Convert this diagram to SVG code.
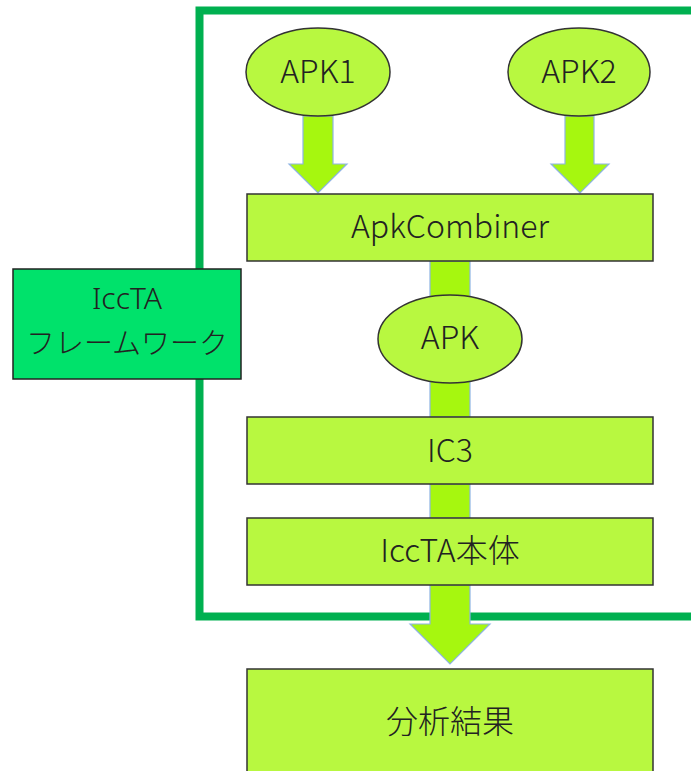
<svg xmlns="http://www.w3.org/2000/svg" width="691" height="771" viewBox="0 0 691 771">
<style>
.box{fill:#B8F840;stroke:#333;stroke-width:1.5}
.ell{fill:#B8F840;stroke:#333;stroke-width:1.5}
.arr{fill:#A6F70F;stroke:#8EB4E3;stroke-width:1.2}
.t{font-family:"Noto Sans CJK JP","Noto Sans",sans-serif;font-size:32px;font-weight:300;fill:#222;text-anchor:middle}
.f{font-size:29px}
.l{font-family:"Noto Sans",sans-serif;font-size:30px}
</style>
<rect width="691" height="771" fill="#fff"/>
<g id="frame"><rect x="199.5" y="10.5" width="520" height="606" fill="none" stroke="#00B050" stroke-width="8"/></g>
<g id="connectors">
<path class="arr" d="M303,116 V164 H289 L318,193 L347,164 H333 V116 Z"/>
<path class="arr" d="M565,116 V164 H551 L580,193 L609,164 H594 V116 Z"/>
<rect class="arr" x="430" y="261" width="40" height="156"/>
<rect class="arr" x="430" y="484" width="40" height="34"/>
<path class="arr" d="M430,585 V624 H410 L450,664 L490,624 H470 V585 Z"/>
</g>
<g id="framework"><rect x="13" y="269" width="228" height="110" fill="#00E26B" stroke="#222" stroke-width="1.5"/>
<text class="t l" x="127" y="309">IccTA</text><text class="t f" x="127" y="354">フレームワーク</text></g>
<g id="apk1"><ellipse class="ell" cx="318" cy="72" rx="72" ry="44"/><text class="t" x="318" y="83">APK1</text></g>
<g id="apk2"><ellipse class="ell" cx="579" cy="72" rx="71" ry="44"/><text class="t" x="579" y="83">APK2</text></g>
<g id="combiner"><rect class="box" x="247" y="194" width="406" height="67"/><text class="t" x="450" y="238">ApkCombiner</text></g>
<g id="apk"><ellipse class="ell" cx="450" cy="339" rx="72" ry="44"/><text class="t" x="450" y="349">APK</text></g>
<g id="ic3"><rect class="box" x="247" y="417" width="406" height="67"/><text class="t" x="450" y="462">IC3</text></g>
<g id="iccta"><rect class="box" x="247" y="518" width="406" height="67"/><text class="t" x="450" y="562">IccTA本体</text></g>
<g id="result"><rect class="box" x="247" y="669" width="406" height="110"/><text class="t" x="450" y="733">分析結果</text></g>
</svg>
